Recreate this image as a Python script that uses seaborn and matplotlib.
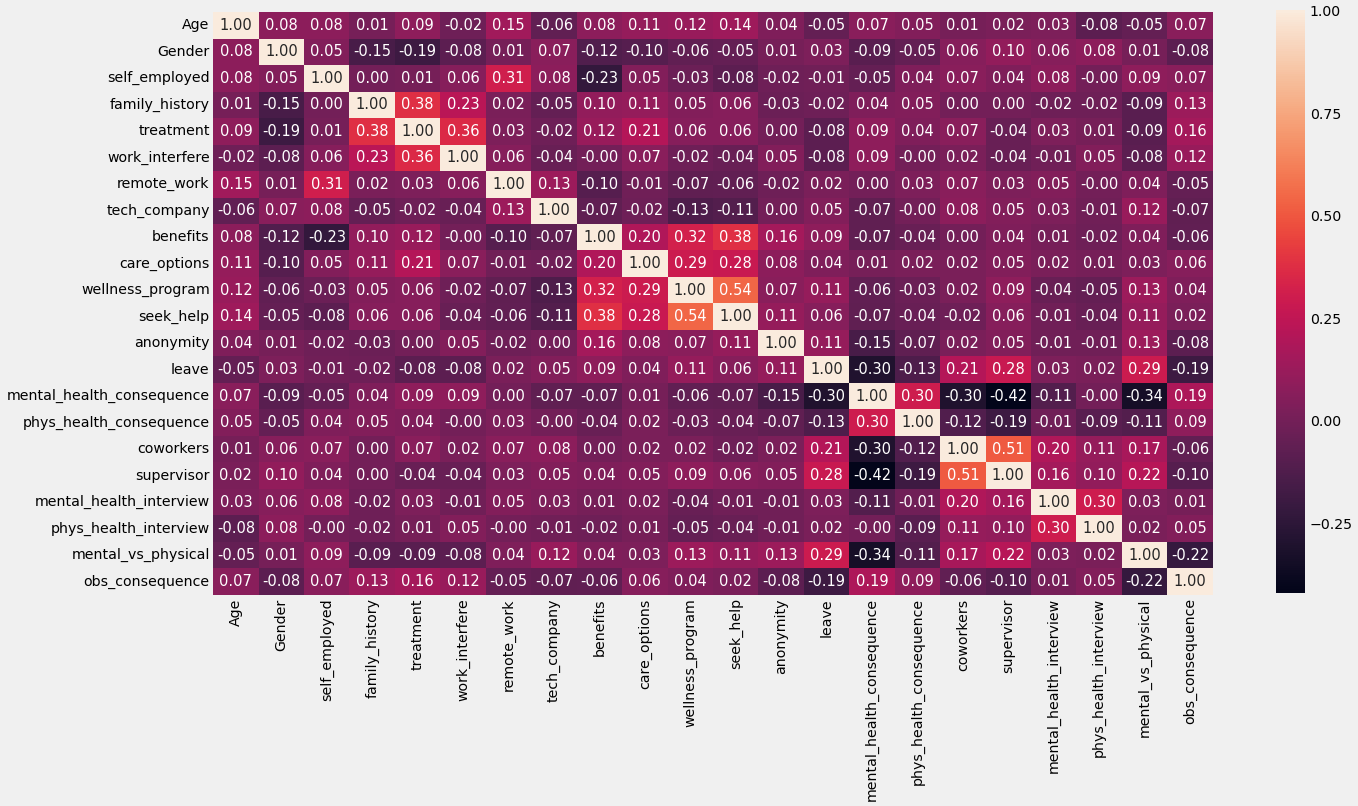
import numpy as np
import pandas as pd
import matplotlib
matplotlib.use('Agg')
import matplotlib.pyplot as plt
import seaborn as sns

# Variables (ordre du tableau)
labels = ['Age', 'Gender', 'self_employed', 'family_history', 'treatment',
          'work_interfere', 'remote_work', 'tech_company', 'benefits',
          'care_options', 'wellness_program', 'seek_help', 'anonymity', 'leave',
          'mental_health_consequence', 'phys_health_consequence', 'coworkers',
          'supervisor', 'mental_health_interview', 'phys_health_interview',
          'mental_vs_physical', 'obs_consequence']

# Matrice de corrélation
row_age = [1.00, 0.08, 0.08, 0.01, 0.09, -0.02, 0.15, -0.06, 0.08, 0.11, 0.12, 0.14, 0.04, -0.05, 0.07, 0.05, 0.01, 0.02, 0.03, -0.08, -0.05, 0.07]
row_gender = [0.08, 1.00, 0.05, -0.15, -0.19, -0.08, 0.01, 0.07, -0.12, -0.10, -0.06, -0.05, 0.01, 0.03, -0.09, -0.05, 0.06, 0.10, 0.06, 0.08, 0.01, -0.08]
row_self_employed = [0.08, 0.05, 1.00, 0.00, 0.01, 0.06, 0.31, 0.08, -0.23, 0.05, -0.03, -0.08, -0.02, -0.01, -0.05, 0.04, 0.07, 0.04, 0.08, -0.0, 0.09, 0.07]
row_family_history = [0.01, -0.15, 0.00, 1.00, 0.38, 0.23, 0.02, -0.05, 0.10, 0.11, 0.05, 0.06, -0.03, -0.02, 0.04, 0.05, 0.00, 0.00, -0.02, -0.02, -0.09, 0.13]
row_treatment = [0.09, -0.19, 0.01, 0.38, 1.00, 0.36, 0.03, -0.02, 0.12, 0.21, 0.06, 0.06, 0.00, -0.08, 0.09, 0.04, 0.07, -0.04, 0.03, 0.01, -0.09, 0.16]
row_work_interfere = [-0.02, -0.08, 0.06, 0.23, 0.36, 1.00, 0.06, -0.04, -0.0, 0.07, -0.02, -0.04, 0.05, -0.08, 0.09, -0.0, 0.02, -0.04, -0.01, 0.05, -0.08, 0.12]
row_remote_work = [0.15, 0.01, 0.31, 0.02, 0.03, 0.06, 1.00, 0.13, -0.10, -0.01, -0.07, -0.06, -0.02, 0.02, 0.00, 0.03, 0.07, 0.03, 0.05, -0.0, 0.04, -0.05]
row_tech_company = [-0.06, 0.07, 0.08, -0.05, -0.02, -0.04, 0.13, 1.00, -0.07, -0.02, -0.13, -0.11, 0.00, 0.05, -0.07, -0.0, 0.08, 0.05, 0.03, -0.01, 0.12, -0.07]
row_benefits = [0.08, -0.12, -0.23, 0.10, 0.12, -0.0, -0.10, -0.07, 1.00, 0.20, 0.32, 0.38, 0.16, 0.09, -0.07, -0.04, 0.00, 0.04, 0.01, -0.02, 0.04, -0.06]
row_care_options = [0.11, -0.10, 0.05, 0.11, 0.21, 0.07, -0.01, -0.02, 0.20, 1.00, 0.29, 0.28, 0.08, 0.04, 0.01, 0.02, 0.02, 0.05, 0.02, 0.01, 0.03, 0.06]
row_wellness_program = [0.12, -0.06, -0.03, 0.05, 0.06, -0.02, -0.07, -0.13, 0.32, 0.29, 1.00, 0.54, 0.07, 0.11, -0.06, -0.03, 0.02, 0.09, -0.04, -0.05, 0.13, 0.04]
row_seek_help = [0.14, -0.05, -0.08, 0.06, 0.06, -0.04, -0.06, -0.11, 0.38, 0.28, 0.54, 1.00, 0.11, 0.06, -0.07, -0.04, -0.02, 0.06, -0.01, -0.04, 0.11, 0.02]
row_anonymity = [0.04, 0.01, -0.02, -0.03, 0.00, 0.05, -0.02, 0.00, 0.16, 0.08, 0.07, 0.11, 1.00, 0.11, -0.15, -0.07, 0.02, 0.05, -0.01, -0.01, 0.13, -0.08]
row_leave = [-0.05, 0.03, -0.01, -0.02, -0.08, -0.08, 0.02, 0.05, 0.09, 0.04, 0.11, 0.06, 0.11, 1.00, -0.30, -0.13, 0.21, 0.28, 0.03, 0.02, 0.29, -0.19]
row_mh_consequence = [0.07, -0.09, -0.05, 0.04, 0.09, 0.09, 0.00, -0.07, -0.07, 0.01, -0.06, -0.07, -0.15, -0.30, 1.00, 0.30, -0.30, -0.42, -0.11, -0.0, -0.34, 0.19]
row_ph_consequence = [0.05, -0.05, 0.04, 0.05, 0.04, -0.0, 0.03, -0.0, -0.04, 0.02, -0.03, -0.04, -0.07, -0.13, 0.30, 1.00, -0.12, -0.19, -0.01, -0.09, -0.11, 0.09]
row_coworkers = [0.01, 0.06, 0.07, 0.00, 0.07, 0.02, 0.07, 0.08, 0.00, 0.02, 0.02, -0.02, 0.02, 0.21, -0.30, -0.12, 1.00, 0.51, 0.20, 0.11, 0.17, -0.06]
row_supervisor = [0.02, 0.10, 0.04, 0.00, -0.04, -0.04, 0.03, 0.05, 0.04, 0.05, 0.09, 0.06, 0.05, 0.28, -0.42, -0.19, 0.51, 1.00, 0.16, 0.10, 0.22, -0.10]
row_mh_interview = [0.03, 0.06, 0.08, -0.02, 0.03, -0.01, 0.05, 0.03, 0.01, 0.02, -0.04, -0.01, -0.01, 0.03, -0.11, -0.01, 0.20, 0.16, 1.00, 0.30, 0.03, 0.01]
row_ph_interview = [-0.08, 0.08, -0.0, -0.02, 0.01, 0.05, -0.0, -0.01, -0.02, 0.01, -0.05, -0.04, -0.01, 0.02, -0.0, -0.09, 0.11, 0.10, 0.30, 1.00, 0.02, 0.05]
row_mental_vs_physical = [-0.05, 0.01, 0.09, -0.09, -0.09, -0.08, 0.04, 0.12, 0.04, 0.03, 0.13, 0.11, 0.13, 0.29, -0.34, -0.11, 0.17, 0.22, 0.03, 0.02, 1.00, -0.22]
row_obs_consequence = [0.07, -0.08, 0.07, 0.13, 0.16, 0.12, -0.05, -0.07, -0.06, 0.06, 0.04, 0.02, -0.08, -0.19, 0.19, 0.09, -0.06, -0.10, 0.01, 0.05, -0.22, 1.00]

corr = pd.DataFrame([row_age, row_gender, row_self_employed, row_family_history,
                     row_treatment, row_work_interfere, row_remote_work,
                     row_tech_company, row_benefits, row_care_options,
                     row_wellness_program, row_seek_help, row_anonymity, row_leave,
                     row_mh_consequence, row_ph_consequence, row_coworkers,
                     row_supervisor, row_mh_interview, row_ph_interview,
                     row_mental_vs_physical, row_obs_consequence],
                    index=labels, columns=labels)

plt.style.use('fivethirtyeight')
plt.rcParams['font.family'] = ['DejaVu Sans']

fig = plt.figure(figsize=(13.58, 8.06), dpi=100)
ax = fig.add_axes([0.157, 0.262, 0.736, 0.723])
cax = fig.add_axes([0.9396, 0.264, 0.0214, 0.723])

sns.heatmap(corr, annot=True, fmt='.2f', ax=ax, cbar_ax=cax,
            annot_kws={'fontsize': 10.5})

ax.tick_params(axis='both', labelsize=10.2, length=0, pad=2.5)
ax.set_xticklabels(labels, rotation=90)
ax.set_yticklabels(labels, rotation=0)
cax.tick_params(labelsize=10.2, length=0)
cax.set_yticks([-0.25, 0.0, 0.25, 0.5, 0.75, 1.0])

fig.savefig('out.png', dpi=100, facecolor=fig.get_facecolor())
